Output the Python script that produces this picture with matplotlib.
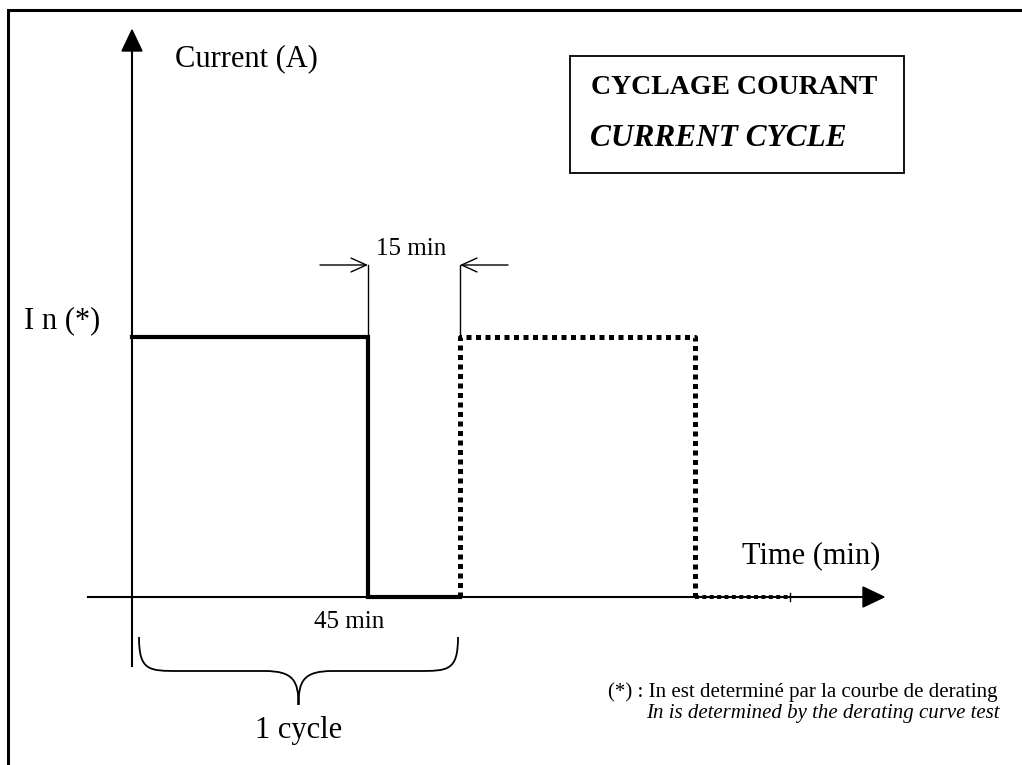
import numpy as np
import matplotlib as mpl
import matplotlib.pyplot as plt
import matplotlib.patches as mpatches
from matplotlib.path import Path

mpl.rcParams['font.family'] = ['Liberation Serif', 'DejaVu Serif']

# schematic waveform, in drawing units (x to the right, y downward like the page)
level_y = 337      # I n level
zero_y = 597       # time axis
cycle1_x = [132, 368, 368, 460]
cycle1_y = [level_y, level_y, zero_y, zero_y]
cycle2_x = [460, 460, 695, 695]
cycle2_y = [zero_y, level_y, level_y, zero_y]
tail_x = [695, 790]
tail_y = [zero_y, zero_y]

fig = plt.figure(figsize=(10.22, 7.65), dpi=100)
ax = fig.add_axes([0, 0, 1, 1])
ax.set_xlim(0, 1022)
ax.set_ylim(765, 0)
ax.axis('off')

# page frame (left and top edges only show)
ax.plot([8, 8, 1030], [780, 10, 10], color='k', lw=2.2, solid_joinstyle='miter')

# axes with filled arrowheads
ax.plot([132, 132], [666, 48], color='k', lw=1.5)
ax.add_patch(mpatches.Polygon([[122, 51], [142, 51], [132, 30]], closed=True, color='k'))
ax.plot([88, 866], [zero_y, zero_y], color='k', lw=1.5)
ax.add_patch(mpatches.Polygon([[863, 587], [863, 607], [884, zero_y]], closed=True, color='k'))

# waveform
ax.plot(cycle1_x, cycle1_y, color='k', lw=3.0, solid_joinstyle='miter')
ax.plot(cycle2_x, cycle2_y, color='k', lw=3.6, linestyle=(0, (1.0, 0.9)), dash_capstyle='butt')
ax.plot(tail_x, tail_y, color='k', lw=2.8, linestyle=(0, (1.0, 0.9)), dash_capstyle='butt')
ax.plot([790, 790], [593, 601], color='k', lw=1)

# 15 min markers
ax.plot([368, 368], [265, level_y], color='k', lw=1)
ax.plot([460, 460], [265, level_y], color='k', lw=1)
head = '->,head_length=1.1,head_width=0.5'
ax.annotate('', xy=(368, 265), xytext=(320, 265),
            arrowprops=dict(arrowstyle=head, lw=1, color='k', shrinkA=0, shrinkB=0))
ax.annotate('', xy=(460, 265), xytext=(508, 265),
            arrowprops=dict(arrowstyle=head, lw=1, color='k', shrinkA=0, shrinkB=0))

# brace under one cycle
bl, br, by, bm, bt = 139, 458, 637, 671, 705
bc = (bl + br) / 2
verts = [(bl, by), (bl, bm), (bl + 10, bm), (bl + 40, bm),
         (bc - 34, bm),
         (bc - 5, bm), (bc, bm + 10), (bc, bt),
         (bc, bm + 10), (bc + 5, bm), (bc + 34, bm),
         (br - 40, bm),
         (br - 10, bm), (br, bm), (br, by)]
codes = [Path.MOVETO, Path.CURVE4, Path.CURVE4, Path.CURVE4,
         Path.LINETO,
         Path.CURVE4, Path.CURVE4, Path.CURVE4,
         Path.CURVE4, Path.CURVE4, Path.CURVE4,
         Path.LINETO,
         Path.CURVE4, Path.CURVE4, Path.CURVE4]
ax.add_patch(mpatches.PathPatch(Path(verts, codes), fill=False, lw=1.3, color='k'))

# title box
ax.add_patch(mpatches.Rectangle((570, 56), 334, 117, fill=False, lw=1.3, color='k'))
ax.text(591, 94, 'CYCLAGE COURANT', fontsize=20, fontweight='bold', va='baseline', ha='left')
ax.text(590, 146, 'CURRENT CYCLE', fontsize=22.5, fontweight='bold', style='italic',
        va='baseline', ha='left')

# labels
ax.text(175, 66, 'Current (A)', fontsize=22, va='baseline', ha='left')
ax.text(24, 328, 'I n (*)', fontsize=22, va='baseline', ha='left')
ax.text(411, 255, '15 min', fontsize=18, va='baseline', ha='center')
ax.text(349, 628, '45 min', fontsize=18, va='baseline', ha='center')
ax.text(880, 563, 'Time (min)', fontsize=22, va='baseline', ha='right')
ax.text(bc, 738, '1 cycle', fontsize=22, va='baseline', ha='center')

# footnote
ax.text(997, 697, '(*) : In est determiné par la courbe de derating', fontsize=15,
        va='baseline', ha='right')
ax.text(1000, 718, 'In is determined by the derating curve test', fontsize=15,
        style='italic', va='baseline', ha='right')

fig.savefig('out.png', dpi=100, facecolor='white')
